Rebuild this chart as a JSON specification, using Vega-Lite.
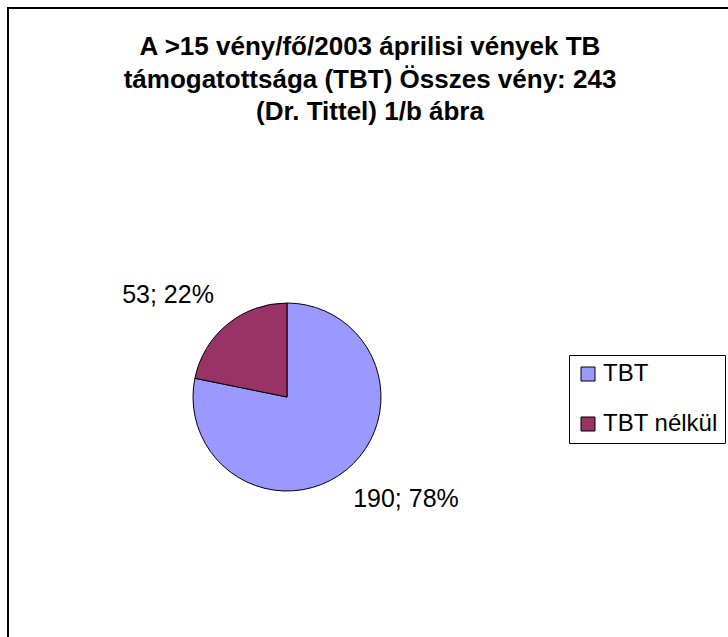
{
  "$schema": "https://vega.github.io/schema/vega-lite/v6.json",
  "autosize": "none",
  "width": 724,
  "height": 633,
  "padding": {"left": 8, "top": 8, "right": -4, "bottom": -4},
  "background": "white",
  "view": {"stroke": "black", "strokeWidth": 2},
  "config": {"view": {"stroke": "black", "strokeWidth": 2}, "font": "Liberation Sans"},
  "title": {
    "text": ["A >15 vény/fő/2003 áprilisi vények TB", "támogatottsága (TBT)  Összes vény: 243", "(Dr. Tittel) 1/b ábra"],
    "fontSize": 26,
    "fontWeight": "bold",
    "font": "Liberation Sans",
    "color": "black",
    "lineHeight": 32.5,
    "anchor": "middle",
    "offset": -117
  },
  "data": {
    "values": [
      {"category": "TBT", "value": 190, "label": "190; 78%"},
      {"category": "TBT nélkül", "value": 53, "label": "53; 22%"}
    ]
  },
  "encoding": {
    "theta": {"field": "value", "type": "quantitative", "stack": true},
    "order": {"field": "category", "sort": "ascending"}
  },
  "layer": [
    {
      "mark": {"type": "arc", "x": 279, "y": 389, "outerRadius": 94, "stroke": "black", "strokeWidth": 1},
      "encoding": {
        "color": {
          "field": "category",
          "type": "nominal",
          "scale": {"domain": ["TBT", "TBT nélkül"], "range": ["#9999FF", "#993366"]},
          "legend": {
            "orient": "none",
            "legendX": 561,
            "legendY": 347,
            "title": null,
            "strokeColor": "black",
            "fillColor": "white",
            "padding": 7,
            "symbolType": "square",
            "symbolSize": 196,
            "symbolStrokeColor": "black",
            "symbolStrokeWidth": 1,
            "symbolOpacity": 1,
            "labelFontSize": 24,
            "labelFont": "Liberation Sans",
            "labelColor": "black",
            "labelOffset": 3,
            "rowPadding": 26,
            "labelLimit": 300
          }
        }
      }
    },
    {
      "mark": {"type": "text", "x": 279, "y": 389, "radius": 157, "thetaOffset": -0.1745, "fontSize": 25, "font": "Liberation Sans", "color": "black"},
      "encoding": {
        "detail": {"field": "category", "type": "nominal"},
        "text": {"field": "label", "type": "nominal"}
      }
    }
  ]
}
